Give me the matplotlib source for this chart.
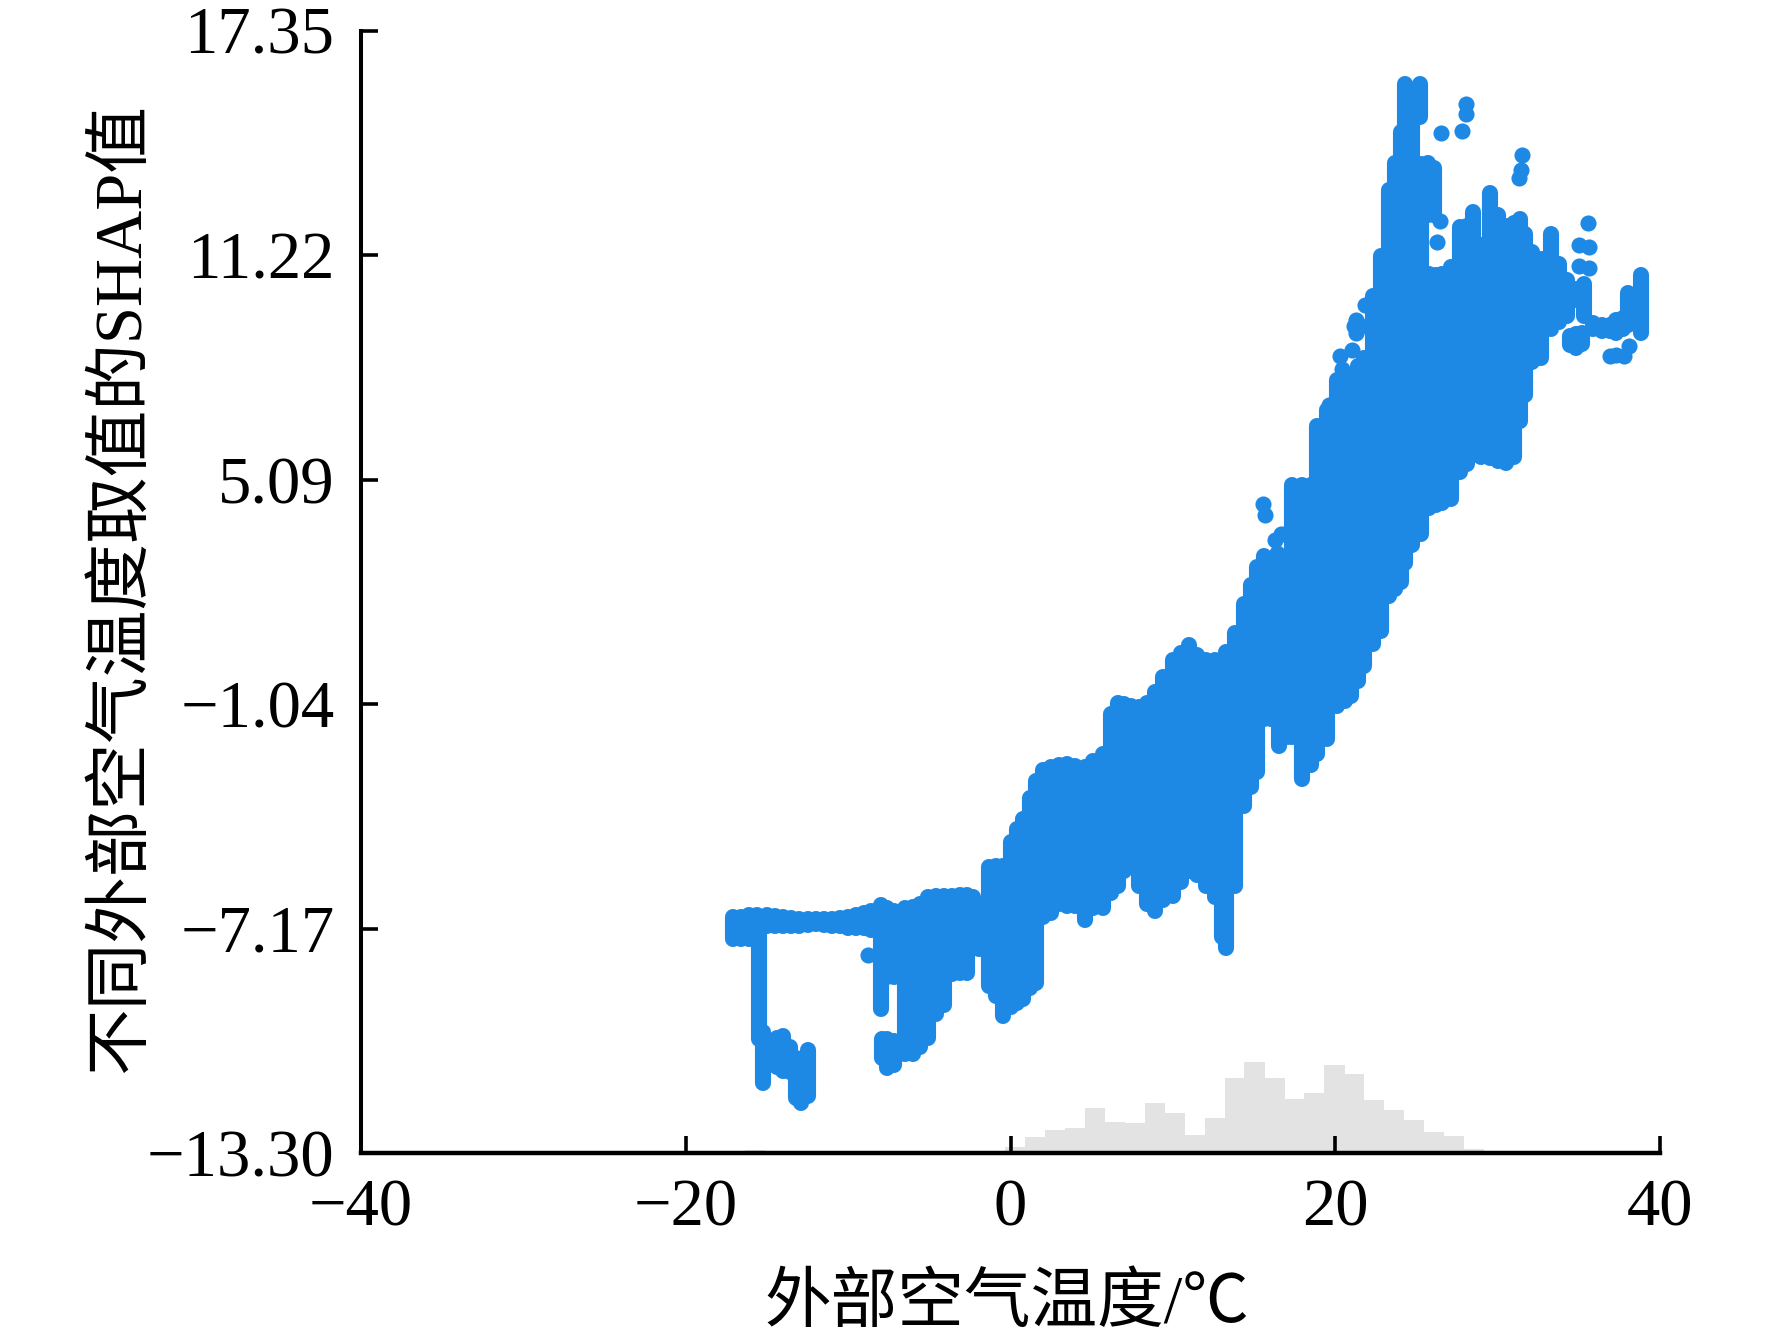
#!/usr/bin/env python3
# -*- coding: utf-8 -*-
import matplotlib
matplotlib.use('Agg')
import matplotlib.pyplot as plt

plt.rcParams['font.family'] = ['Liberation Serif', 'Noto Sans CJK SC']
plt.rcParams['axes.unicode_minus'] = True

# nuvem de pontos lida por colunas: temperatura, SHAP minimo, SHAP maximo
band_temp = [-17.1, -16.6, -16.1, -15.6, -15.0, -14.5, -14.0, -13.5, -13.0, -12.5, -12.0, -11.5, -11.0, -10.5, -10.0, -9.5, -9.0, -8.6]
band_low = [-7.45, -7.45, -7.45, -7.4, -7.1, -7.1, -7.1, -7.1, -7.1, -7.08, -7.06, -7.08, -7.1, -7.1, -7.15, -7.15, -7.15, -7.2]
band_high = [-6.85, -6.85, -6.8, -6.8, -6.8, -6.82, -6.85, -6.88, -6.9, -6.92, -6.92, -6.92, -6.9, -6.88, -6.85, -6.8, -6.75, -6.68]

leg_temp = [-15.5, -15.25, -14.8, -14.4, -14.0, -13.6, -13.2, -12.9, -12.47]
leg_low = [-10.2, -11.4, -10.8, -10.95, -11.05, -11.1, -11.8, -11.93, -11.75]
leg_high = [-6.9, -10.0, -10.3, -10.15, -10.1, -10.4, -10.7, -10.8, -10.5]

mid_temp = [-8.0, -7.6, -7.2, -7.9, -7.6, -7.2, -6.5, -6.0, -5.6, -5.1, -4.6, -4.1, -3.6, -3.1, -2.66, -2.3, -1.93]
mid_low = [-9.38, -8.5, -8.5, -10.7, -10.97, -10.9, -10.6, -10.6, -10.4, -10.15, -9.5, -9.25, -8.4, -8.38, -8.38, -7.48, -7.74]
mid_high = [-6.54, -6.6, -6.68, -10.2, -10.2, -10.25, -6.62, -6.57, -6.5, -6.3, -6.27, -6.27, -6.27, -6.25, -6.25, -6.3, -7.36]

main_temp = [-1.3, -0.9, -0.47, 0.0, 0.4, 0.8, 1.2, 1.6, 2.0, 2.5, 3.0, 3.5, 4.0, 4.6, 5.1, 5.7, 6.2, 6.6, 7.0, 7.4,
             7.9, 8.4, 8.9, 9.4, 10.0, 10.5, 11.0, 11.5, 12.06, 12.6, 13.0, 13.3, 13.8, 14.35, 14.8, 15.2, 15.6, 16.05, 16.53, 17.0,
             17.35, 17.96, 18.5, 18.9, 19.5, 20.12, 20.6, 20.94, 21.4, 21.76, 22.3, 22.8, 23.3, 23.65, 24.05, 24.3, 24.75, 25.2, 25.3, 25.7,
             26.1, 25.75, 26.2, 26.6, 27.1, 27.7, 28.1, 28.5, 29.0, 29.56, 30.0, 30.5, 31.0, 31.35, 31.7, 32.1, 32.7, 33.26, 33.77, 34.3,
             34.8, 35.31]
main_low = [-8.75, -9.0, -9.56, -9.3, -9.2, -9.1, -8.8, -8.65, -6.85, -6.75, -6.5, -6.55, -6.55, -6.95, -6.6, -6.6, -6.2, -6.0, -5.6, -5.4,
            -6.0, -6.5, -6.7, -6.4, -6.28, -5.9, -5.6, -5.7, -6.0, -6.3, -7.4, -7.69, -6.0, -3.82, -3.3, -2.91, -1.45, -1.45, -2.18, -1.95,
            -1.95, -3.09, -2.7, -2.4, -2.0, -1.1, -0.95, -0.81, -0.4, 0.0, 0.6, 0.95, 1.9, 2.1, 2.3, 2.8, 3.3, 15.0, 3.6, 12.3,
            12.3, 4.3, 4.4, 4.45, 4.56, 5.29, 5.5, 5.75, 5.7, 5.69, 5.6, 5.55, 5.7, 6.7, 7.4, 8.3, 8.4, 9.2, 9.4, 9.56,
            10.0, 9.55]
main_high = [-5.5, -5.45, -5.45, -4.8, -4.45, -4.18, -3.6, -3.13, -2.85, -2.75, -2.7, -2.67, -2.72, -2.76, -2.6, -2.4, -1.3, -1.0, -1.05, -1.1,
             -1.12, -1.0, -0.7, -0.3, 0.15, 0.35, 0.56, 0.3, 0.15, 0.15, 0.15, 0.38, 0.9, 1.7, 2.2, 2.7, 3.0, 2.9, 3.0, 3.0,
             4.93, 4.93, 4.93, 6.54, 7.0, 7.8, 7.85, 7.9, 8.2, 8.4, 10.1, 11.2, 12.99, 13.72, 14.58, 15.9, 15.0, 15.9, 13.7, 13.72,
             13.6, 10.7, 10.67, 10.7, 10.89, 11.99, 12.0, 12.4, 11.5, 12.9, 12.3, 12.0, 12.1, 12.21, 11.8, 11.3, 11.1, 11.8, 10.98, 10.53,
             10.3, 10.44]

tail_temp = [34.45, 34.85, 35.2, 35.9, 36.4, 36.9, 37.3, 37.7, 38.0, 38.4, 38.85]
tail_low = [8.75, 8.68, 8.8, 9.2, 9.15, 9.15, 9.1, 9.2, 9.3, 9.5, 9.09]
tail_high = [9.0, 9.05, 9.1, 9.35, 9.3, 9.3, 9.45, 9.5, 10.18, 10.1, 10.67]

# pontos isolados
dot_temp = [-8.75, 15.54, 15.7, 16.63, 16.43, 16.3, 16.9, 18.9, 19.6, 20.32, 20.4, 21.04, 21.15, 21.3, 21.3, 21.56, 21.86, 26.48, 26.28, 28.06, 28.06, 27.82, 26.52,
            31.51, 31.45, 31.31, 35.56, 35.0, 35.62, 35.0, 35.62, 36.95, 37.3, 37.77, 38.08]
dot_shap = [-7.89, 4.41, 4.13, 3.59, 3.09, 3.45, 3.6, 5.64, 7.13, 8.45, 8.1, 8.63, 9.27, 9.45, 9.1, 9.27, 9.86, 12.14, 11.58, 15.33, 15.06, 14.6, 14.54,
            13.94, 13.54, 13.33, 12.1, 11.48, 11.43, 10.91, 10.87, 8.45, 8.5, 8.45, 8.73]

# histograma
hist_left = [-16.34, -8.95, -5.27, -0.35, 0.88, 2.11, 3.34, 4.57, 5.8, 7.03, 8.26, 9.49, 10.72, 11.95, 13.18, 14.41, 15.64, 16.87, 18.1, 19.33,
             20.56, 21.79, 23.02, 24.25, 25.48, 26.71, 27.94, 29.17]
hist_height = [0.08, 0.03, 0.04, 0.16, 0.44, 0.63, 0.68, 1.23, 0.85, 0.82, 1.37, 1.09, 0.49, 0.96, 2.05, 2.49, 2.05, 1.48, 1.64, 2.4,
               2.16, 1.45, 1.17, 0.9, 0.57, 0.46, 0.11, 0.03]
hist_width = 1.24

x_ticks = [-40, -20, 0, 20, 40]
y_ticks = [-13.30, -7.17, -1.04, 5.09, 11.22, 17.35]

blue = '#1e88e5'
dot_lw = 11.6
font_size = 48

fig = plt.figure(figsize=(17.72, 13.40), dpi=100, facecolor='w')
ax = fig.add_axes([361 / 1772, 1 - 1153 / 1340, 1299 / 1772, 1122.5 / 1340])

ax.bar(hist_left, hist_height, width=hist_width, bottom=-13.30, align='edge', color='#e3e3e3', linewidth=0, zorder=1)

for temp, low, high in [(band_temp, band_low, band_high), (leg_temp, leg_low, leg_high), (mid_temp, mid_low, mid_high),
                        (main_temp, main_low, main_high), (tail_temp, tail_low, tail_high)]:
    ax.vlines(temp, low, high, colors=blue, linewidth=dot_lw, capstyle='round', zorder=2)
ax.scatter(dot_temp, dot_shap, s=dot_lw ** 2, color=blue, linewidths=0, zorder=2)

ax.set_xlim(-40, 40)
ax.set_ylim(-13.30, 17.35)
ax.spines['top'].set_visible(False)
ax.spines['right'].set_visible(False)
ax.spines['left'].set_linewidth(2.9)
ax.spines['bottom'].set_linewidth(3.2)
ax.spines['bottom'].set_zorder(5)

ax.set_xticks(x_ticks)
ax.set_xticklabels(['\u2212%d' % abs(v) if v < 0 else str(v) for v in x_ticks])
ax.set_yticks(y_ticks)
ax.set_yticklabels([('\u2212%.2f' % abs(v)) if v < 0 else '%.2f' % v for v in y_ticks])
ax.tick_params(axis='x', direction='in', length=12, width=2.6, labelsize=font_size, pad=18)
ax.tick_params(axis='y', direction='in', length=12, width=2.6, labelsize=font_size, pad=19)

ax.set_xlabel('外部空气温度/℃', fontsize=font_size, va='center')
ax.xaxis.set_label_coords(0.497, -0.136)
ax.set_ylabel('不同外部空气温度取值的SHAP值', fontsize=font_size, va='center')
ax.yaxis.set_label_coords(-0.1842, 0.503)

fig.savefig('out.png', dpi=100)
